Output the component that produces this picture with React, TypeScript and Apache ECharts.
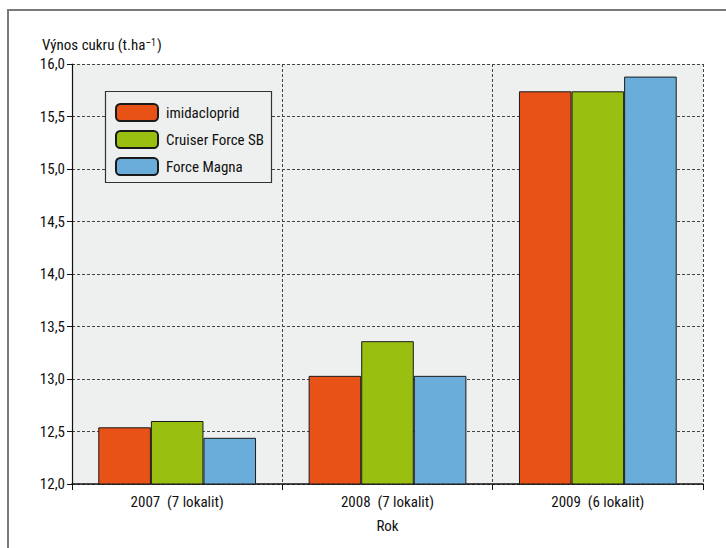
import React, { useEffect, useRef } from "react";
import * as echarts from "echarts";

const categories = ["2007  (7 lokalit)", "2008  (7 lokalit)", "2009  (6 lokalit)"];
const seriesNames = ["imidacloprid", "Cruiser Force SB", "Force Magna"];
const imidacloprid = [12.54, 13.03, 15.74];
const cruiserForceSB = [12.6, 13.36, 15.74];
const forceMagna = [12.44, 13.03, 15.88];
const seriesColors = ["#E95217", "#99C010", "#6AADDB"];
const yMin = 12;
const yMax = 16;
const yInterval = 0.5;
const yTitle = "Výnos cukru (t.ha";
const yTitleSup = "–1";
const xTitle = "Rok";

const FONT = "'Liberation Sans Narrow', 'Roboto Condensed', 'Liberation Sans', sans-serif";

export default function App() {
  const ref = useRef<HTMLDivElement>(null);
  useEffect(() => {
    if (!ref.current) return;
    const chart = echarts.init(ref.current, undefined, { renderer: "svg" });
    const values = [imidacloprid, cruiserForceSB, forceMagna];
    chart.setOption({
      animation: false,
      backgroundColor: "#ffffff",
      textStyle: { fontFamily: FONT },
      grid: {
        left: 72,
        right: 23,
        top: 64,
        bottom: 64,
        show: true,
        backgroundColor: "#EEF0EF",
        borderWidth: 0,
      },
      legend: {
        left: 115,
        top: 103,
        orient: "vertical",
        itemWidth: 42,
        itemHeight: 17,
        itemGap: 8,
        padding: 0,
        z: 6,
        textStyle: { fontFamily: FONT, fontSize: 15, color: "#111", padding: [0, 0, 0, 3] },
        data: seriesNames,
      },
      graphic: [
        {
          type: "polyline",
          shape: { points: [[8, 548], [8, 10], [726, 10]] },
          style: { stroke: "#7a7a7a", lineWidth: 2, fill: "none" },
          z: 1,
        },
        {
          type: "rect",
          shape: { x: 105.5, y: 91.5, width: 166, height: 91 },
          style: { fill: "#EEF0EF", stroke: "#333", lineWidth: 1.2 },
          z: 5,
        },
        {
          type: "text",
          x: 42,
          y: 45,
          style: {
            text: "{a|" + yTitle + "}{s|" + yTitleSup + "}{a|)}",
            verticalAlign: "middle",
            rich: {
              a: { fontFamily: FONT, fontSize: 15, fill: "#111" },
              s: { fontFamily: FONT, fontSize: 10, fill: "#111", verticalAlign: "top", padding: [0, 1, 3, 0] },
            },
          },
          z: 5,
        },
      ],
      xAxis: {
        type: "category",
        data: categories,
        name: xTitle,
        nameLocation: "middle",
        nameGap: 34,
        nameTextStyle: { fontFamily: FONT, fontSize: 15, color: "#111" },
        axisLine: { lineStyle: { color: "#111", width: 1.5 } },
        axisTick: { show: true, length: 6, lineStyle: { color: "#111" } },
        axisLabel: { fontFamily: FONT, fontSize: 15, color: "#111", margin: 10 },
        splitLine: { show: true, lineStyle: { color: "#444", type: [3, 2], width: 1 } },
      },
      yAxis: {
        type: "value",
        min: yMin,
        max: yMax,
        interval: yInterval,
        axisLine: { show: true, lineStyle: { color: "#111", width: 1.2 } },
        axisTick: { show: true, length: 5, lineStyle: { color: "#111" } },
        axisLabel: {
          fontFamily: FONT,
          fontSize: 15,
          color: "#111",
          margin: 7,
          formatter: (v: number) => v.toFixed(1).replace(".", ","),
        },
        splitLine: { show: true, lineStyle: { color: "#444", type: [3, 2], width: 1 } },
      },
      series: seriesNames.map((name, i) => ({
        name,
        type: "bar",
        data: values[i],
        barGap: "0%",
        barCategoryGap: "25%",
        itemStyle: { color: seriesColors[i], borderColor: "#1a1a1a", borderWidth: 1 },
        z: 3,
      })),
    });
    return () => chart.dispose();
  }, []);
  return (
    <div
      ref={ref}
      style={{ position: "fixed", left: 0, top: 0, width: 726, height: 548 }}
    />
  );
}
